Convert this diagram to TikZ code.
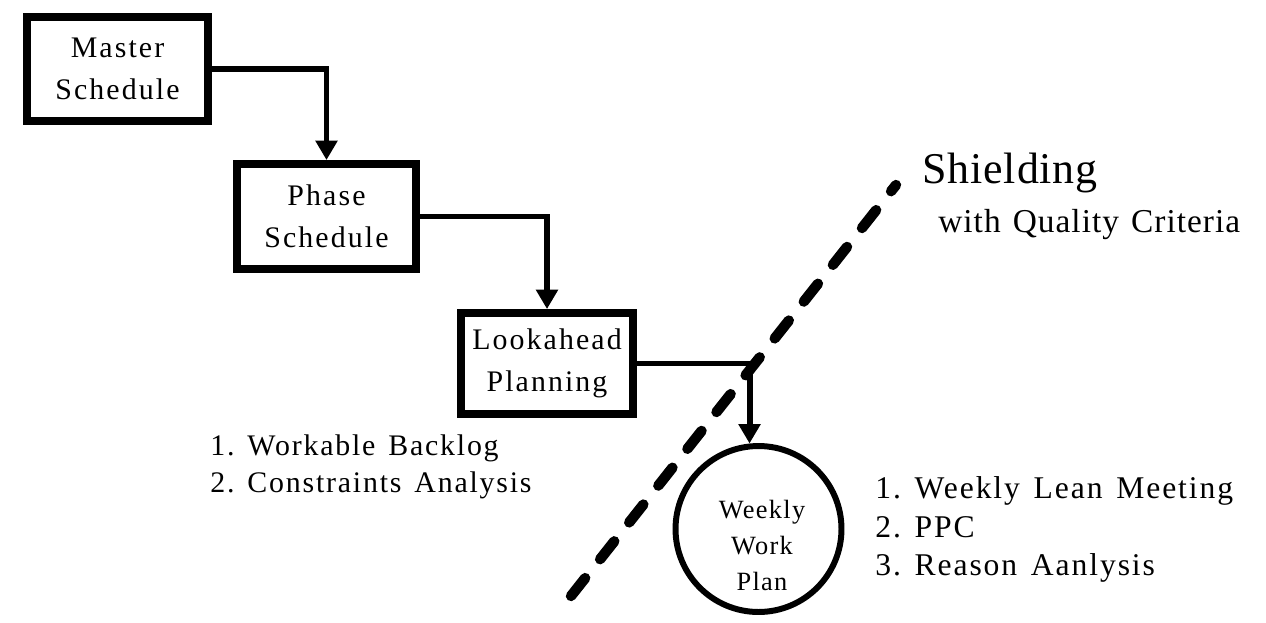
\documentclass[tikz,border=0pt]{standalone}
\usepackage{fontspec}
\setmainfont{Liberation Serif}
\newfontfamily\boxfont[LetterSpace=7]{Liberation Serif}
\newfontfamily\listfont[LetterSpace=6,WordSpace=1.4]{Liberation Serif}
\newfontfamily\shfont[LetterSpace=2]{Liberation Serif}
\newfontfamily\qcfont[LetterSpace=3,WordSpace=1.3]{Liberation Serif}
\newfontfamily\circfont[LetterSpace=5]{Liberation Serif}
\usetikzlibrary{arrows.meta}
\begin{document}
\begin{tikzpicture}[x=0.02cm,y=-0.02cm,
  box/.style={draw,line width=4.5pt,align=center,inner sep=0pt,font=\boxfont\fontsize{17}{24}\selectfont},
  circ/.style={draw,circle,line width=3.4pt,inner sep=0pt,minimum size=3.32cm},
  conn/.style={line width=3.4pt,-{Triangle[length=11pt,width=12pt]}},
  lbl/.style={anchor=base west,inner sep=0pt},
  shield/.style={line width=5.9pt,line cap=round,dash pattern=on 13pt off 13.7pt}]
\useasboundingbox[fill=white] (0,0) rectangle (1266,622);
% boxes
\node[box,minimum width=3.62cm,minimum height=2.08cm] (ms) at (117.5,69) {Master\\Schedule};
\node[box,minimum width=3.58cm,minimum height=2.10cm] (ps) at (326.5,216.5) {Phase\\Schedule};
\node[box,minimum width=3.44cm,minimum height=2.02cm] (lp) at (547,363.5) {Lookahead\\Planning};
\node[circ] (wwp) at (758.5,529) {};
\node[inner sep=0pt,align=center,font=\circfont\fontsize{15}{20.5}\selectfont] (wwt) at (762,545) {Weekly\\Work\\Plan};
% dashed shielding line
\coordinate (sA) at (571,596);
\coordinate (sB) at (896,185);
\draw[shield] (sA) -- (sB);
% connectors
\draw[conn] (ms.east) -| (ps.north);
\draw[conn] (ps.east) -| (lp.north);
\draw[conn] (lp.east) -| (wwp.96);
% texts
\node[lbl,font=\shfont\fontsize{25}{30}\selectfont] (sh) at (922,183) {Shielding};
\node[lbl,font=\qcfont\fontsize{19}{24}\selectfont] (qc) at (938,232) {with Quality Criteria};
\node[lbl,font=\listfont\fontsize{17}{22}\selectfont] (l1) at (210,455) {1.\ Workable Backlog};
\node[lbl,font=\listfont\fontsize{17}{22}\selectfont] (l2) at (210,492) {2.\ Constraints Analysis};
\node[lbl,font=\listfont\fontsize{18}{22}\selectfont] (r1) at (875,498) {1.\ Weekly Lean Meeting};
\node[lbl,font=\listfont\fontsize{18}{22}\selectfont] (r2) at (875,537) {2.\ PPC};
\node[lbl,font=\listfont\fontsize{18}{22}\selectfont] (r3) at (875,575) {3.\ Reason Aanlysis};
\end{tikzpicture}
\end{document}
